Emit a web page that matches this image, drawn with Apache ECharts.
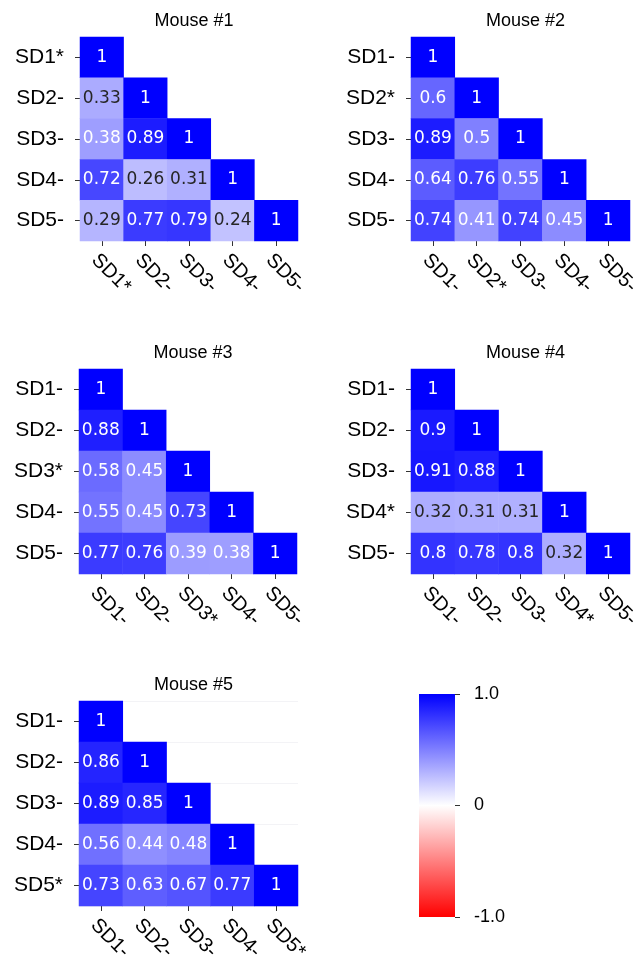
<!DOCTYPE html>
<html>
<head>
<meta charset="utf-8">
<script src="https://cdn.jsdelivr.net/npm/echarts@6/dist/echarts.min.js"></script>
<style>
  html, body { margin: 0; padding: 0; background: #fff; }
  #chart { width: 639px; height: 956px; }
</style>
</head>
<body>
<div id="chart"></div>
<script>
// Pairwise correlation of SD sessions, lower triangle per mouse
const mouseTitles = ['Mouse #1', 'Mouse #2', 'Mouse #3', 'Mouse #4', 'Mouse #5'];

const labels1 = ['SD1*', 'SD2-', 'SD3-', 'SD4-', 'SD5-'];
const labels2 = ['SD1-', 'SD2*', 'SD3-', 'SD4-', 'SD5-'];
const labels3 = ['SD1-', 'SD2-', 'SD3*', 'SD4-', 'SD5-'];
const labels4 = ['SD1-', 'SD2-', 'SD3-', 'SD4*', 'SD5-'];
const labels5 = ['SD1-', 'SD2-', 'SD3-', 'SD4-', 'SD5*'];

// rows of the lower triangle (row i holds columns 0..i)
const corr1 = [[1], [0.33, 1], [0.38, 0.89, 1], [0.72, 0.26, 0.31, 1], [0.29, 0.77, 0.79, 0.24, 1]];
const corr2 = [[1], [0.6, 1], [0.89, 0.5, 1], [0.64, 0.76, 0.55, 1], [0.74, 0.41, 0.74, 0.45, 1]];
const corr3 = [[1], [0.88, 1], [0.58, 0.45, 1], [0.55, 0.45, 0.73, 1], [0.77, 0.76, 0.39, 0.38, 1]];
const corr4 = [[1], [0.9, 1], [0.91, 0.88, 1], [0.32, 0.31, 0.31, 1], [0.8, 0.78, 0.8, 0.32, 1]];
const corr5 = [[1], [0.86, 1], [0.89, 0.85, 1], [0.56, 0.44, 0.48, 1], [0.73, 0.63, 0.67, 0.77, 1]];

const colorbarTicks = [-1, 0, 1];
const colorbarTickLabels = ['-1.0', '0', '1.0'];
const colorStops = ['#ff0000', '#ffffff', '#0000ff'];

const panelLabels = [labels1, labels2, labels3, labels4, labels5];
const panelCorr = [corr1, corr2, corr3, corr4, corr5];

// panel rectangles in pixels
const panelBoxes = [
  { left: 80,  top: 37,  width: 218, height: 204 },
  { left: 411, top: 37,  width: 219, height: 204 },
  { left: 79,  top: 369, width: 218, height: 205 },
  { left: 411, top: 369, width: 219, height: 205 },
  { left: 79,  top: 701, width: 219, height: 205 }
];

const AXIS_FONT = '"Liberation Sans", Arial, sans-serif';
const ANNOT_FONT = '"DejaVu Sans", sans-serif';

const grids = [], xAxes = [], yAxes = [], series = [], titles = [];

panelBoxes.forEach((b, i) => {
  grids.push({ left: b.left, top: b.top, width: b.width, height: b.height,
               containLabel: false, outerBoundsMode: 'none' });
  titles.push({
    text: mouseTitles[i],
    left: b.left + b.width / 2,
    top: b.top - 30,
    textAlign: 'center',
    textStyle: { fontFamily: AXIS_FONT, fontSize: 18, fontWeight: 'normal', color: '#000' }
  });
  xAxes.push({
    type: 'category', gridIndex: i, data: panelLabels[i], position: 'bottom',
    axisLine: { show: false },
    axisTick: { show: true, alignWithLabel: true, length: 5, lineStyle: { color: '#333', width: 1 } },
    axisLabel: { rotate: -45, margin: 9, verticalAlign: 'top',
                 fontFamily: AXIS_FONT, fontSize: 20, color: '#000' },
    splitLine: { show: false }
  });
  yAxes.push({
    type: 'category', gridIndex: i, data: panelLabels[i], inverse: true,
    axisLine: { show: false },
    axisTick: { show: true, alignWithLabel: true, length: 5, lineStyle: { color: '#333', width: 1 } },
    axisLabel: { margin: 16, fontFamily: AXIS_FONT, fontSize: 21, color: '#000' },
    splitLine: { show: i === 4, lineStyle: { color: '#f3f3f6', width: 1 } }
  });
  const data = [];
  panelCorr[i].forEach((row, r) => {
    row.forEach((v, c) => { data.push([c, r, v]); });
  });
  series.push({
    type: 'heatmap', xAxisIndex: i, yAxisIndex: i, data: data,
    label: {
      show: true,
      formatter: p => (p.value[2] < 0.35 ? '{dk|' : '{lt|') + String(p.value[2]) + '}',
      rich: {
        dk: { color: '#262626', fontFamily: ANNOT_FONT, fontSize: 17 },
        lt: { color: '#ffffff', fontFamily: ANNOT_FONT, fontSize: 17 }
      }
    },
    itemStyle: { borderWidth: 0 },
    emphasis: { disabled: true }
  });
});

// colorbar: gradient strip with its own value axis on the right edge
const cb = { left: 419, top: 694, width: 36, height: 223 };
grids.push({ left: cb.left, top: cb.top, width: cb.width, height: cb.height,
             containLabel: false, outerBoundsMode: 'none' });
xAxes.push({
  type: 'value', gridIndex: 5, show: false, min: 0, max: 1,
  axisLine: { show: false, onZero: false }, axisTick: { show: false },
  axisLabel: { show: false }, splitLine: { show: false }
});
yAxes.push({
  type: 'value', gridIndex: 5, position: 'right', min: -1, max: 1, interval: 1,
  axisLine: { show: false, onZero: false },
  axisTick: { show: true, length: 5, lineStyle: { color: '#333' } },
  splitLine: { show: false },
  axisLabel: {
    margin: 19, fontFamily: AXIS_FONT, fontSize: 18, color: '#000',
    formatter: v => colorbarTickLabels[colorbarTicks.indexOf(v)]
  }
});

const chart = echarts.init(document.getElementById('chart'), null, { renderer: 'canvas' });
chart.setOption({
  animation: false,
  backgroundColor: '#fff',
  title: titles,
  grid: grids,
  xAxis: xAxes,
  yAxis: yAxes,
  visualMap: {
    type: 'continuous', min: -1, max: 1, seriesIndex: [0, 1, 2, 3, 4],
    show: false,
    inRange: { color: colorStops }
  },
  graphic: [{
    type: 'rect', z: 1,
    shape: { x: cb.left, y: cb.top, width: cb.width, height: cb.height },
    style: {
      fill: new echarts.graphic.LinearGradient(0, 0, 0, 1, [
        { offset: 0, color: colorStops[2] },
        { offset: 0.5, color: colorStops[1] },
        { offset: 1, color: colorStops[0] }
      ])
    }
  }],
  series: series
});
</script>
</body>
</html>
